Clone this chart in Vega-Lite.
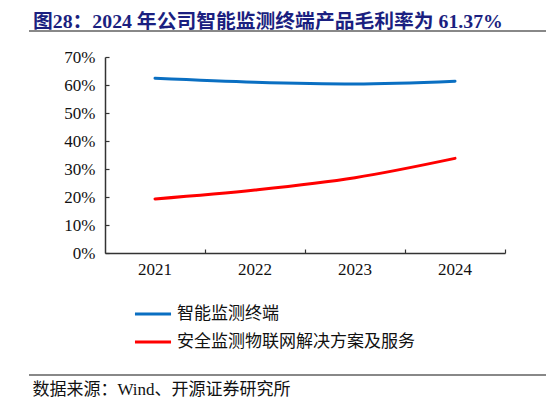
{
  "$schema": "https://vega.github.io/schema/vega-lite/v6.json",
  "autosize": "none",
  "width": 400,
  "height": 196,
  "padding": {"left": 105, "top": 57, "right": 41, "bottom": 152},
  "background": "white",
  "title": {
    "text": "图28：2024 年公司智能监测终端产品毛利率为 61.37%",
    "anchor": "start",
    "frame": "group",
    "dx": -72,
    "offset": -2,
    "font": "Liberation Serif, Noto Sans CJK SC",
    "fontSize": 19.8,
    "fontWeight": "bold",
    "color": "#1b1f80"
  },
  "data": {
    "values": [
      {"year": "2021", "series": "智能监测终端", "margin": 0.624},
      {"year": "2022", "series": "智能监测终端", "margin": 0.610},
      {"year": "2023", "series": "智能监测终端", "margin": 0.604},
      {"year": "2024", "series": "智能监测终端", "margin": 0.6137},
      {"year": "2021", "series": "安全监测物联网解决方案及服务", "margin": 0.193},
      {"year": "2022", "series": "安全监测物联网解决方案及服务", "margin": 0.225},
      {"year": "2023", "series": "安全监测物联网解决方案及服务", "margin": 0.269},
      {"year": "2024", "series": "安全监测物联网解决方案及服务", "margin": 0.338}
    ]
  },
  "config": {
    "view": {"stroke": null},
    "axis": {
      "labelFont": "Liberation Serif",
      "labelFontSize": 17,
      "labelColor": "#111",
      "domainColor": "#333",
      "domainWidth": 1.5,
      "tickColor": "#333",
      "tickWidth": 1.2,
      "grid": false
    }
  },
  "layer": [
    {
      "mark": {"type": "line", "interpolate": "monotone", "strokeWidth": 3, "strokeCap": "round"},
      "encoding": {
        "x": {
          "field": "year",
          "type": "ordinal",
          "scale": {"type": "band", "paddingInner": 0, "paddingOuter": 0},
          "axis": {
            "labelAngle": 0,
            "bandPosition": 1,
            "tickSize": -4,
            "labelPadding": 12,
            "title": "数据来源：Wind、开源证券研究所",
            "titleFont": "Liberation Serif, Noto Sans CJK SC",
            "titleFontSize": 17,
            "titleFontWeight": "normal",
            "titleColor": "#111",
            "titleAnchor": "start",
            "titleAlign": "left",
            "titleBaseline": "middle",
            "titleX": -73,
            "titleY": 136
          }
        },
        "y": {
          "field": "margin",
          "type": "quantitative",
          "scale": {"domain": [0, 0.7], "nice": false},
          "axis": {
            "format": ".0%",
            "values": [0, 0.1, 0.2, 0.3, 0.4, 0.5, 0.6, 0.7],
            "tickSize": -4,
            "labelPadding": 14,
            "title": null
          }
        },
        "color": {
          "field": "series",
          "type": "nominal",
          "sort": ["智能监测终端", "安全监测物联网解决方案及服务"],
          "scale": {"domain": ["智能监测终端", "安全监测物联网解决方案及服务"], "range": ["#0a6fc2", "#ff0000"]},
          "legend": {
            "title": null,
            "orient": "none",
            "legendX": 28,
            "legendY": 237,
            "direction": "vertical",
            "symbolType": "stroke",
            "symbolStrokeWidth": 3,
            "symbolSize": 1300,
            "rowPadding": -1,
            "labelFont": "Noto Sans CJK SC",
            "labelFontSize": 17,
            "labelLimit": 400,
            "labelColor": "#111",
            "labelOffset": 4
          }
        }
      }
    },
    {
      "mark": {"type": "rule", "color": "#888", "strokeWidth": 2},
      "encoding": {"x": {"value": -76}, "x2": {"value": 441}, "y": {"value": -26}}
    },
    {
      "mark": {"type": "rule", "color": "#888", "strokeWidth": 1.5},
      "encoding": {"x": {"value": -76}, "x2": {"value": 441}, "y": {"value": 318}}
    }
  ]
}
